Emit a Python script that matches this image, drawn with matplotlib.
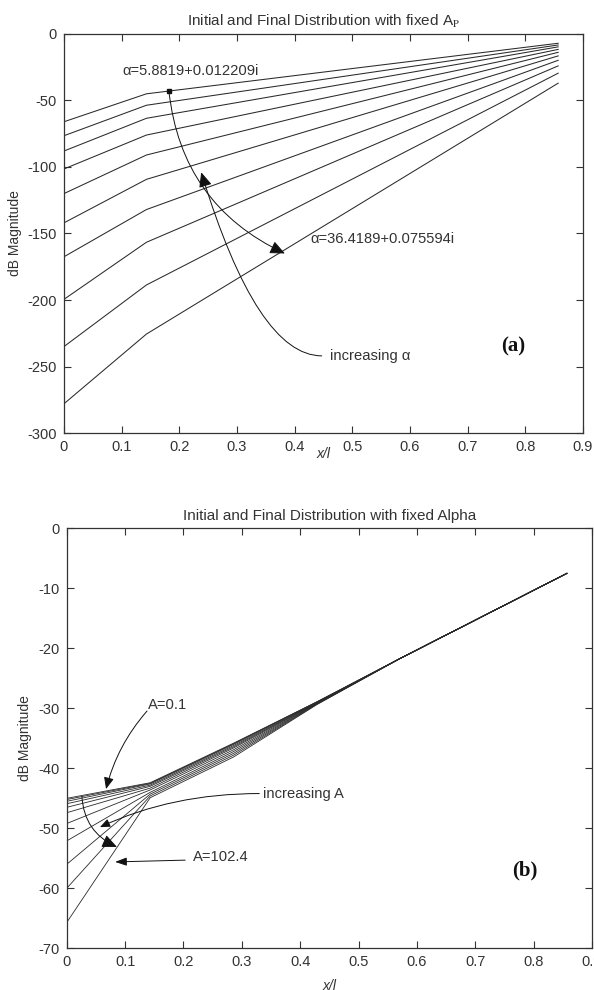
"""
Initial and final distribution charts: (a) fixed A_P, (b) fixed alpha.
"""
import matplotlib
matplotlib.use("Agg")
import matplotlib.pyplot as plt

plt.rcParams["font.family"] = ["Liberation Sans", "DejaVu Sans"]
plt.rcParams["mathtext.fontset"] = "stix"
plt.rcParams["axes.unicode_minus"] = False

INK = "#333333"

# (a) fixed A_P: one line per alpha, three points each
x_a = [0.0, 0.143, 0.857]
a_start = [-66.0, -76.5, -88.0, -101.5, -120.0, -142.0, -167.5, -199.5, -235.0, -278.0]
a_break = [-45.0, -53.6, -63.4, -76.0, -91.0, -109.3, -132.0, -156.6, -188.7, -225.6]
a_end = [-7.0, -8.3, -9.7, -11.6, -13.8, -16.5, -19.8, -24.0, -29.5, -37.0]

# (b) fixed alpha: one line per A (0.1 ... 102.4)
x_b = [0.0, 0.143, 0.286, 0.429, 0.571, 0.714, 0.857]
A_values = [0.1, 0.2, 0.4, 0.8, 1.6, 3.2, 6.4, 12.8, 25.6, 51.2, 102.4]
b_start = [-45.0, -45.2, -45.5, -45.9, -46.5, -47.4, -49.2, -52.1, -56.0, -60.0, -65.7]
b_break = [-42.4, -42.5, -42.6, -42.8, -43.0, -43.3, -43.6, -44.0, -44.3, -44.6, -44.9]
b_mid = [-35.8, -35.9, -36.0, -36.2, -36.4, -36.6, -36.9, -37.2, -37.5, -37.8, -38.1]
b_join = [-28.9, -28.9, -28.95, -29.0, -29.05, -29.1, -29.15, -29.2, -29.25, -29.3, -29.35]
b_tail = [-21.7, -14.6, -7.5]

x_ticks = [0, 0.1, 0.2, 0.3, 0.4, 0.5, 0.6, 0.7, 0.8, 0.9]
x_ticklabels = ["0", "0.1", "0.2", "0.3", "0.4", "0.5", "0.6", "0.7", "0.8", "0.9"]


def style_axes(ax, ylab_x, xlab_y):
    for spine in ax.spines.values():
        spine.set_edgecolor(INK)
        spine.set_linewidth(0.9)
    ax.tick_params(direction="in", length=5, width=0.8, colors=INK,
                   labelsize=10.5, top=True, right=True, pad=5)
    ax.set_ylabel("dB Magnitude", color=INK, fontsize=10)
    ax.set_xlabel("x/l", color=INK, fontsize=10, style="italic")
    ax.yaxis.set_label_coords(ylab_x, 0.5)
    ax.xaxis.set_label_coords(0.5, xlab_y)


def arrow(ax, tail, tip, conn, hl=8, hw=3.5, lw=0.7):
    ax.annotate("", xy=tip, xytext=tail,
                arrowprops=dict(arrowstyle=f"-|>,head_length={hl/10},head_width={hw/10}",
                                connectionstyle=conn, color="#111111", lw=lw,
                                shrinkA=0, shrinkB=0, mutation_scale=10))


fig = plt.figure(figsize=(5.94, 9.9), dpi=100)

# ---- (a) ----
ax1 = fig.add_axes([0.1077, 0.5626, 0.8737, 0.4031])
for s, b, e in zip(a_start, a_break, a_end):
    ax1.plot(x_a, [s, b, e], color="#2a2a2a", lw=0.75)
ax1.set_xlim(0, 0.9)
ax1.set_ylim(-300, 0)
ax1.set_xticks(x_ticks)
ax1.set_xticklabels(x_ticklabels)
ax1.set_yticks([-300, -250, -200, -150, -100, -50, 0])
style_axes(ax1, -0.081, -0.036)
ax1.set_title(r"Initial and Final Distribution with fixed A$_\mathrm{P}$",
              color=INK, fontsize=11, pad=6)

ax1.plot([0.182], [-42.9], marker="s", ms=3, color="#111111")
ax1.text(0.102, -28, "α=5.8819+0.012209i", color=INK, fontsize=10.6, va="center")
ax1.text(0.427, -154, "α=36.4189+0.075594i", color=INK, fontsize=10.6, va="center")
ax1.text(0.461, -242, "increasing α", color=INK, fontsize=10.6, va="center")
ax1.text(0.779, -235, "(a)", fontsize=15, fontweight="bold", family="Liberation Serif",
         ha="center", va="center", color="#111111")
arrow(ax1, (0.182, -43), (0.383, -165), "arc3,rad=0.28", hl=9, hw=4)
arrow(ax1, (0.447, -242), (0.238, -104), "angle3,angleA=0,angleB=107", hl=9, hw=4)

# ---- (b) ----
ax2 = fig.add_axes([0.1123, 0.0421, 0.8843, 0.4242])
for i in range(len(A_values)):
    ys = [b_start[i], b_break[i], b_mid[i], b_join[i]] + b_tail
    ax2.plot(x_b, ys, color="#2a2a2a", lw=0.6)
ax2.set_xlim(0, 0.9)
ax2.set_ylim(-70, 0)
ax2.set_xticks(x_ticks)
ax2.set_xticklabels(x_ticklabels)
ax2.set_yticks([-70, -60, -50, -40, -30, -20, -10, 0])
style_axes(ax2, -0.066, -0.073)
ax2.set_title("Initial and Final Distribution with fixed Alpha",
              color=INK, fontsize=11, pad=6)

ax2.text(0.139, -29.4, "A=0.1", color=INK, fontsize=10.6, va="center")
ax2.text(0.337, -44.2, "increasing A", color=INK, fontsize=10.6, va="center")
ax2.text(0.217, -54.7, "A=102.4", color=INK, fontsize=10.6, va="center")
ax2.text(0.785, -57, "(b)", fontsize=15, fontweight="bold", family="Liberation Serif",
         ha="center", va="center", color="#111111")
arrow(ax2, (0.1376, -30.45), (0.0674, -43.45), "arc3,rad=0.12", hl=7, hw=3)
arrow(ax2, (0.330, -44.2), (0.057, -49.8), "angle3,angleA=0,angleB=25", hl=6, hw=2.5)
arrow(ax2, (0.026, -44.7), (0.086, -53.1), "arc3,rad=0.3", hl=9, hw=4)
arrow(ax2, (0.203, -55.3), (0.083, -55.6), "arc3,rad=0", hl=7, hw=2.5)

fig.savefig("out.png", dpi=100, facecolor="white")
